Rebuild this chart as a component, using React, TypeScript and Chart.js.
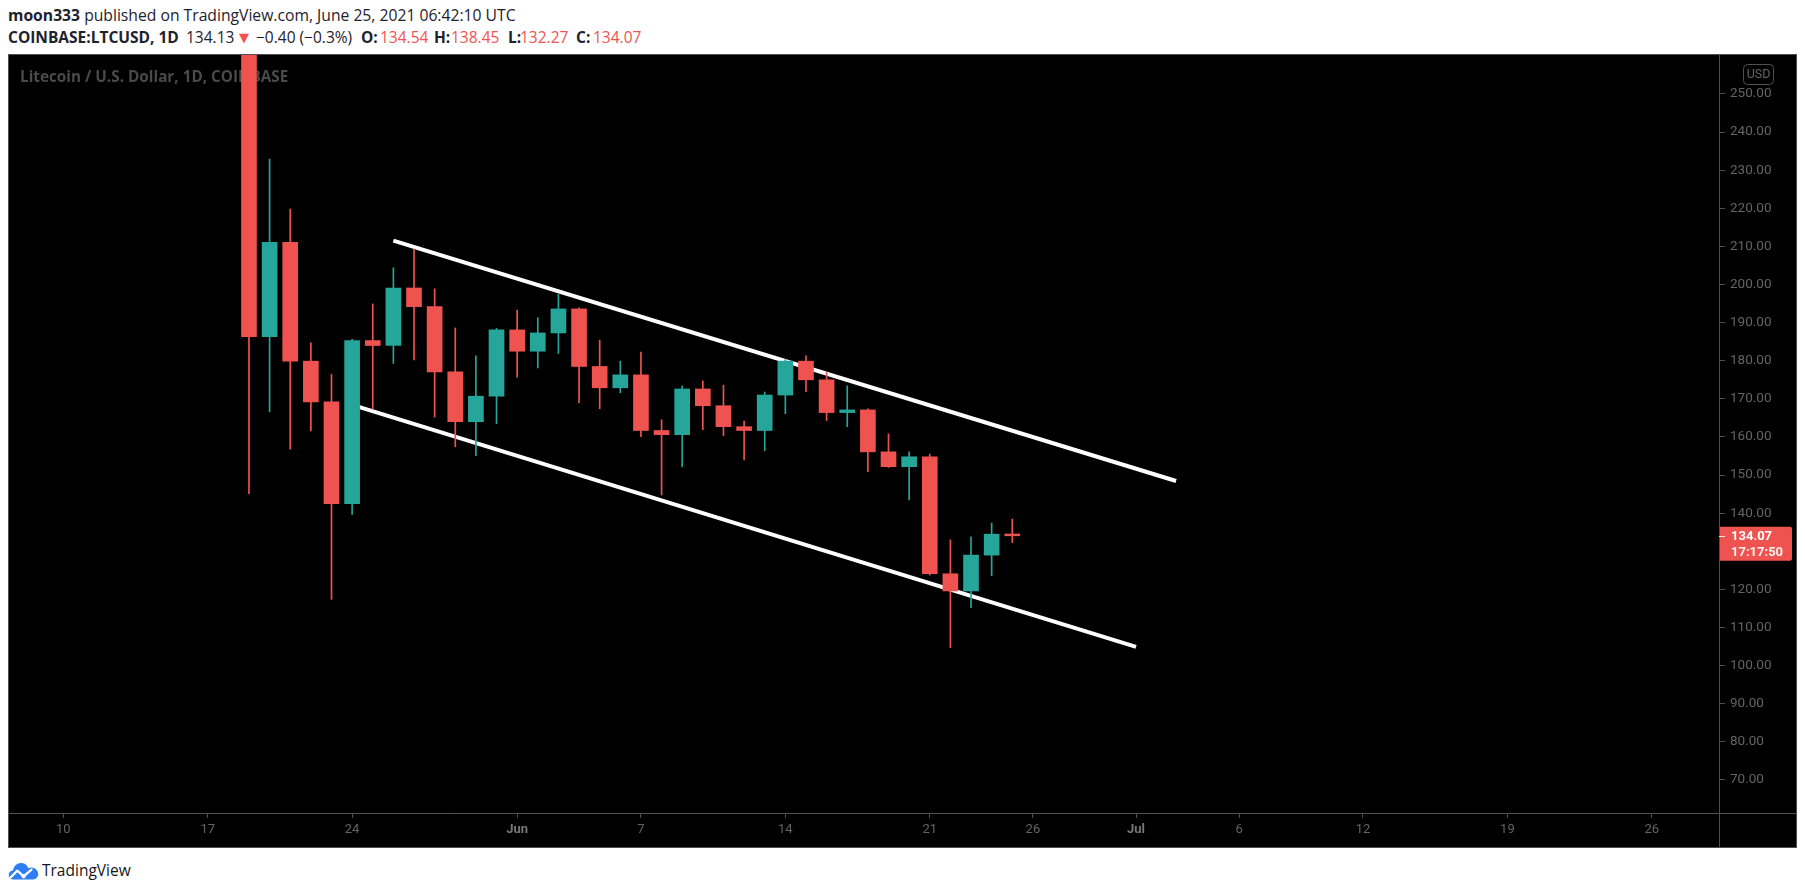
import React, { useEffect, useRef } from 'react';
import { Chart, registerables } from 'chart.js';

Chart.register(...registerables);

// ---- data ----
const ORIGIN = '2021-05-10';
const DATES = [
  '2021-05-19', '2021-05-20', '2021-05-21', '2021-05-22', '2021-05-23', '2021-05-24', '2021-05-25',
  '2021-05-26', '2021-05-27', '2021-05-28', '2021-05-29', '2021-05-30', '2021-05-31', '2021-06-01',
  '2021-06-02', '2021-06-03', '2021-06-04', '2021-06-05', '2021-06-06', '2021-06-07', '2021-06-08',
  '2021-06-09', '2021-06-10', '2021-06-11', '2021-06-12', '2021-06-13', '2021-06-14', '2021-06-15',
  '2021-06-16', '2021-06-17', '2021-06-18', '2021-06-19', '2021-06-20', '2021-06-21', '2021-06-22',
  '2021-06-23', '2021-06-24', '2021-06-25',
];
const OPEN = [
  282.0, 186.3, 211.1, 179.9, 169.2, 142.5, 185.3,
  184.0, 199.1, 194.2, 177.1, 164.0, 170.7, 188.1,
  182.5, 187.3, 193.6, 178.5, 172.9, 176.3, 161.7,
  160.6, 172.6, 168.2, 162.7, 161.7, 171.0, 179.9,
  175.0, 166.4, 167.1, 156.1, 152.2, 154.8, 124.1,
  119.6, 129.0, 134.54,
];
const HIGH = [
  290.0, 232.9, 219.8, 184.7, 176.4, 185.6, 194.9,
  204.4, 209.3, 198.9, 188.6, 181.3, 188.5, 193.3,
  191.3, 197.5, 193.9, 185.4, 179.9, 182.3, 164.5,
  173.4, 174.7, 173.6, 164.2, 171.8, 180.3, 181.3,
  177.1, 173.4, 167.4, 160.8, 156.1, 155.5, 133.0,
  133.8, 137.4, 138.45,
];
const LOW = [
  145.1, 166.6, 156.8, 161.6, 117.4, 139.7, 167.3,
  179.3, 180.2, 165.2, 157.4, 155.1, 163.5, 175.7,
  178.1, 181.9, 169.0, 167.4, 171.6, 160.1, 144.8,
  152.2, 161.9, 160.3, 154.0, 156.4, 166.1, 171.9,
  164.3, 162.7, 150.9, 152.0, 143.5, 123.8, 104.7,
  115.2, 123.6, 132.27,
];
const CLOSE = [
  186.3, 211.1, 179.9, 169.2, 142.5, 185.3, 184.0,
  199.1, 194.2, 177.1, 164.0, 170.7, 188.1, 182.5,
  187.3, 193.6, 178.5, 172.9, 176.3, 161.7, 160.6,
  172.6, 168.2, 162.7, 161.7, 171.0, 179.9, 175.0,
  166.4, 167.1, 156.1, 152.2, 154.8, 124.1, 119.6,
  129.0, 134.5, 134.07,
];

// trend lines drawn on the chart: [days after ORIGIN, price]
const UPPER_TREND_DAYS = [16.0, 53.94];
const UPPER_TREND_PRICES = [211.5, 148.45];
const LOWER_TREND_DAYS = [14.2, 52.0];
const LOWER_TREND_PRICES = [168.1, 104.9];

const X_TICK_DATES = [
  '2021-05-10', '2021-05-17', '2021-05-24', '2021-06-01', '2021-06-07', '2021-06-14', '2021-06-21',
  '2021-06-26', '2021-07-01', '2021-07-06', '2021-07-12', '2021-07-19', '2021-07-26',
];
const X_TICK_LABELS = ['10', '17', '24', 'Jun', '7', '14', '21', '26', 'Jul', '6', '12', '19', '26'];
const MONTH_LABELS = ['Jun', 'Jul'];
const Y_TICKS = [70, 80, 90, 100, 110, 120, 130, 140, 150, 160, 170, 180, 190, 200, 210, 220, 230, 240, 250];

const TITLE = 'Litecoin / U.S. Dollar, 1D, COINBASE';
const CURRENCY = 'USD';
const COUNTDOWN = '17:17:50';

const UP = '#26a69a';
const DOWN = '#ef5350';
const LINE_GRAY = '#4f4f4f';
const TICK_GRAY = '#646464';

const dayIndex = (s: string) => {
  const [y, m, d] = s.split('-').map(Number);
  const [oy, om, od] = ORIGIN.split('-').map(Number);
  return (Date.UTC(y, m - 1, d) - Date.UTC(oy, om - 1, od)) / 86400000;
};

const overlayPlugin = {
  id: 'tvOverlay',
  beforeDatasetsDraw(chart: any) {
    const { ctx, chartArea } = chart;
    ctx.save();
    ctx.font = 'bold 15.3px "Open Sans"';
    ctx.fillStyle = '#4a4a4a';
    ctx.textBaseline = 'alphabetic';
    ctx.textAlign = 'left';
    ctx.fillText(TITLE, chartArea.left + 11, chartArea.top + 27);
    ctx.restore();
  },
  afterDraw(chart: any) {
    const { ctx, chartArea, width, height } = chart;
    const yScale = chart.scales.y;
    ctx.save();
    // separators
    ctx.strokeStyle = LINE_GRAY;
    ctx.lineWidth = 1;
    const vx = Math.round(chartArea.right) + 0.5;
    const hy = Math.round(chartArea.bottom) + 0.5;
    ctx.beginPath();
    ctx.moveTo(vx, 0);
    ctx.lineTo(vx, height);
    ctx.moveTo(0, hy);
    ctx.lineTo(width, hy);
    ctx.stroke();

    // currency box
    const bx = chartArea.right + 24.5;
    const by = 9.5;
    ctx.beginPath();
    (ctx as any).roundRect(bx, by, 30, 20, 4);
    ctx.strokeStyle = LINE_GRAY;
    ctx.stroke();
    ctx.fillStyle = TICK_GRAY;
    ctx.font = '12.5px Roboto';
    ctx.textAlign = 'center';
    ctx.textBaseline = 'middle';
    ctx.fillText(CURRENCY, bx + 15, by + 10.5);

    // last price label
    const last = CLOSE[CLOSE.length - 1];
    const lastUp = last >= OPEN[OPEN.length - 1];
    const py = yScale.getPixelForValue(last);
    const lx = chartArea.right + 1;
    ctx.beginPath();
    (ctx as any).roundRect(lx, py - 9, 72, 34, [0, 2, 2, 0]);
    ctx.fillStyle = lastUp ? UP : DOWN;
    ctx.fill();
    ctx.strokeStyle = 'rgba(255,255,255,0.85)';
    ctx.beginPath();
    ctx.moveTo(chartArea.right, Math.round(py) + 0.5);
    ctx.lineTo(chartArea.right + 6, Math.round(py) + 0.5);
    ctx.stroke();
    ctx.fillStyle = '#ffffff';
    ctx.textAlign = 'left';
    ctx.textBaseline = 'middle';
    ctx.font = 'bold 13px Roboto';
    ctx.fillText(last.toFixed(2), chartArea.right + 12, py + 1);
    ctx.fillStyle = 'rgba(255,255,255,0.92)';
    ctx.fillText(COUNTDOWN, chartArea.right + 12, py + 17);
    ctx.restore();
  },
};

function CandleChart() {
  const ref = useRef<HTMLCanvasElement | null>(null);
  useEffect(() => {
    if (!ref.current) return;
    const xs = DATES.map(dayIndex);
    const colors = DATES.map((_, i) => (CLOSE[i] >= OPEN[i] ? UP : DOWN));
    const xTicks = X_TICK_DATES.map(dayIndex);
    const chart = new Chart(ref.current, {
      type: 'bar',
      data: {
        datasets: [
          {
            type: 'bar',
            label: 'body',
            data: xs.map((x, i) => ({ x, y: [OPEN[i], CLOSE[i]] })) as any,
            backgroundColor: colors,
            borderWidth: 0,
            barThickness: 15,
            grouped: false,
            order: 1,
          } as any,
          {
            type: 'bar',
            label: 'wick',
            data: xs.map((x, i) => ({ x, y: [LOW[i], HIGH[i]] })) as any,
            backgroundColor: colors,
            borderWidth: 0,
            barThickness: 1,
            grouped: false,
            order: 2,
          } as any,
          {
            type: 'line',
            label: 'upper',
            data: UPPER_TREND_DAYS.map((x, i) => ({ x, y: UPPER_TREND_PRICES[i] })),
            borderColor: '#ffffff',
            borderWidth: 4,
            pointRadius: 0,
            borderCapStyle: 'butt',
            order: 3,
          } as any,
          {
            type: 'line',
            label: 'lower',
            data: LOWER_TREND_DAYS.map((x, i) => ({ x, y: LOWER_TREND_PRICES[i] })),
            borderColor: '#ffffff',
            borderWidth: 4,
            pointRadius: 0,
            borderCapStyle: 'butt',
            order: 3,
          } as any,
        ],
      },
      options: {
        animation: false,
        responsive: false,
        maintainAspectRatio: false,
        events: [],
        layout: { padding: 0, autoPadding: false },
        plugins: {
          legend: { display: false },
          tooltip: { enabled: false },
          title: { display: false },
        },
        scales: {
          x: {
            type: 'linear',
            min: -2.632,
            max: 80.257,
            offset: false,
            grid: { offset: false, drawOnChartArea: false, drawTicks: true, tickLength: 5, color: LINE_GRAY },
            border: { display: false },
            afterBuildTicks: (s: any) => {
              s.ticks = xTicks.map((v) => ({ value: v }));
            },
            afterFit: (s: any) => {
              s.height = 34;
              s.paddingLeft = 0;
              s.paddingRight = 0;
              s.paddingTop = 0;
              s.paddingBottom = 0;
            },
            ticks: {
              autoSkip: false,
              maxRotation: 0,
              minRotation: 0,
              padding: 4,
              callback: (_v: any, i: number) => X_TICK_LABELS[i],
              color: (c: any) => (MONTH_LABELS.includes(c.tick?.label) ? '#777777' : TICK_GRAY),
              font: (c: any) => ({
                family: 'Roboto',
                size: 13,
                weight: MONTH_LABELS.includes(c.tick?.label) ? 'bold' : 'normal',
              }),
            },
          },
          y: {
            type: 'linear',
            position: 'right',
            min: 61.33,
            max: 260.23,
            beginAtZero: false,
            grid: { drawOnChartArea: false, drawTicks: true, tickLength: 6, color: LINE_GRAY },
            border: { display: false },
            afterBuildTicks: (s: any) => {
              s.ticks = Y_TICKS.map((v) => ({ value: v }));
            },
            afterFit: (s: any) => {
              s.width = 77;
              s.paddingLeft = 0;
              s.paddingRight = 0;
              s.paddingTop = 0;
              s.paddingBottom = 0;
            },
            ticks: {
              autoSkip: false,
              padding: 5,
              color: TICK_GRAY,
              font: { family: 'Roboto', size: 13.5 },
              callback: (v: any) => Number(v).toFixed(2),
            },
          },
        },
      } as any,
      plugins: [overlayPlugin],
    });
    return () => chart.destroy();
  }, []);
  return <canvas ref={ref} width={1787} height={792} style={{ display: 'block', width: 1787, height: 792 }} />;
}

function Logo() {
  return (
    <svg width="31" height="18" viewBox="0 0 31 18" style={{ position: 'absolute', left: 8, top: 862 }}>
      <path
        d="M6 17.5 C2.6 17.5 0.6 15.1 0.8 12.4 C1.1 9.9 3 8.4 5.1 8.2 C5.7 3.9 9 1 13 1 C16.6 1 19.4 3.2 20.4 6.3 C21.3 5.8 22.3 5.6 23.3 5.6 C27.1 5.6 30.2 8.6 30.2 12 C30.2 15.3 27.6 17.5 24.5 17.5 Z"
        fill="#2e7df7"
      />
      <polyline points="2.8,15.2 9.3,8.6 15.6,14.3 23.5,7.6" fill="none" stroke="#ffffff" strokeWidth="2.3" strokeLinejoin="round" strokeLinecap="round" />
      <circle cx="15.6" cy="14.3" r="2.1" fill="#ffffff" />
    </svg>
  );
}

function Piece({ x, children, style }: { x: number; children: React.ReactNode; style?: React.CSSProperties }) {
  return <span style={{ position: 'absolute', left: x, top: 0, whiteSpace: 'nowrap', ...style }}>{children}</span>;
}

export default function App() {
  const red = { color: DOWN };
  return (
    <div
      style={{
        position: 'fixed',
        left: 0,
        top: 0,
        width: 1805,
        height: 895,
        background: '#ffffff',
        fontFamily: '"Open Sans", sans-serif',
        color: '#1e222d',
        overflow: 'hidden',
      }}
    >
      <div style={{ position: 'absolute', left: 8, top: 4, fontSize: 15.7, lineHeight: '22px', whiteSpace: 'nowrap' }}>
        <b>moon333</b> published on TradingView.com, June 25, 2021 06:42:10 UTC
      </div>
      <div style={{ position: 'absolute', left: 0, top: 26, width: 700, height: 22, fontSize: 15.5, lineHeight: '22px' }}>
        <Piece x={8}><b>COINBASE:LTCUSD, 1D</b></Piece>
        <Piece x={186}>134.13</Piece>
        <Piece x={239} style={{ color: DOWN, fontFamily: '"DejaVu Sans"', fontSize: 13, top: 1 }}>▼</Piece>
        <Piece x={256}>−0.40 (−0.3%)</Piece>
        <Piece x={361}><b>O:</b></Piece>
        <Piece x={380} style={red}>134.54</Piece>
        <Piece x={434}><b>H:</b></Piece>
        <Piece x={451} style={red}>138.45</Piece>
        <Piece x={508}><b>L:</b></Piece>
        <Piece x={520} style={red}>132.27</Piece>
        <Piece x={576}><b>C:</b></Piece>
        <Piece x={593} style={red}>134.07</Piece>
      </div>
      <div
        style={{
          position: 'absolute',
          left: 8,
          top: 54,
          width: 1789,
          height: 794,
          boxSizing: 'border-box',
          border: `1px solid ${LINE_GRAY}`,
          background: '#000000',
        }}
      >
        <CandleChart />
      </div>
      <Logo />
      <div style={{ position: 'absolute', left: 42, top: 860, fontSize: 15.5, lineHeight: '21px', color: '#131722', whiteSpace: 'nowrap' }}>
        TradingView
      </div>
    </div>
  );
}
